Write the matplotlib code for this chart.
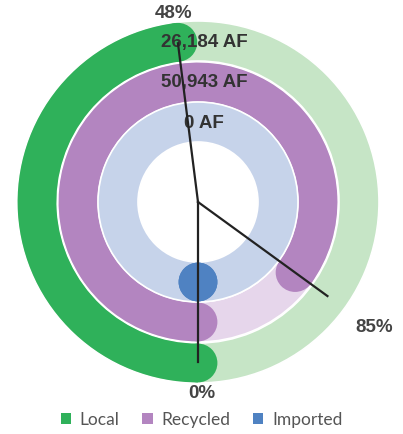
import matplotlib.pyplot as plt
from matplotlib.patches import Wedge, Circle, Patch
import numpy as np

# --- data ---
sources = ["Local", "Recycled", "Imported"]
volumes = ["26,184 AF", "50,943 AF", "0 AF"]
shares = [0.48, 0.85, 0.0]
pct_labels = ["48%", "85%", "0%"]

dark_colors = ["#2fb15a", "#b385c0", "#4f82c2"]
light_colors = ["#c6e5c6", "#e6d6eb", "#c6d3ea"]

# --- layout (pixel units, y up) ---
W, H = 403, 434
cx, cy = 198, 232
ring_outer = [181, 140, 100]
ring_w = 40
start_deg = 270  # rings start at the bottom and run clockwise

fig = plt.figure(figsize=(W / 100, H / 100), dpi=100)
ax = fig.add_axes([0, 0, 1, 1])
ax.set_xlim(0, W)
ax.set_ylim(0, H)
ax.set_aspect("equal")
ax.axis("off")

for r_out, share, dark, light in zip(ring_outer, shares, dark_colors, light_colors):
    # background track
    ax.add_patch(Wedge((cx, cy), r_out, 0, 360, width=ring_w,
                       facecolor=light, edgecolor="white", linewidth=1.2))
    # value arc with rounded ends
    end_deg = start_deg - 360 * share
    if share > 0:
        ax.add_patch(Wedge((cx, cy), r_out - 0.6, end_deg, start_deg, width=ring_w - 1.2,
                           facecolor=dark, edgecolor="none"))
    r_mid = r_out - ring_w / 2
    for a in (start_deg, end_deg):
        t = np.deg2rad(a)
        ax.add_patch(Circle((cx + r_mid * np.cos(t), cy + r_mid * np.sin(t)),
                            ring_w / 2 - 0.6, facecolor=dark, edgecolor="none"))

# volume labels at the top of each ring
for r_out, txt in zip(ring_outer, volumes):
    ax.text(cx + 6, cy + r_out - ring_w / 2 - 1, txt, ha="center", va="center",
            fontsize=13.5, fontweight="bold", color="#333333",
            family="Liberation Sans", zorder=5)

# pointer lines and percent labels
label_pos = [(174, 421), (374, 107), (202, 40)]
for share, txt, (lx, ly) in zip(shares, pct_labels, label_pos):
    t = np.deg2rad(start_deg - 360 * share)
    ax.plot([cx, cx + 160 * np.cos(t)], [cy, cy + 160 * np.sin(t)],
            color="#222222", linewidth=1.6, zorder=6)
    ax.text(lx, ly, txt, ha="center", va="center", fontsize=13.5,
            fontweight="bold", color="#444444", family="Liberation Sans")

handles = [Patch(facecolor=c, edgecolor="none") for c in dark_colors]
ax.legend(handles, sources, loc="center", bbox_to_anchor=(0.5, 14 / H),
          ncol=3, frameon=False, handlelength=0.6, handleheight=0.6,
          handletextpad=0.5, columnspacing=1.3,
          prop={"family": "Lato", "size": 12.5}, labelcolor="#555555")

fig.savefig("out.png", dpi=100)
